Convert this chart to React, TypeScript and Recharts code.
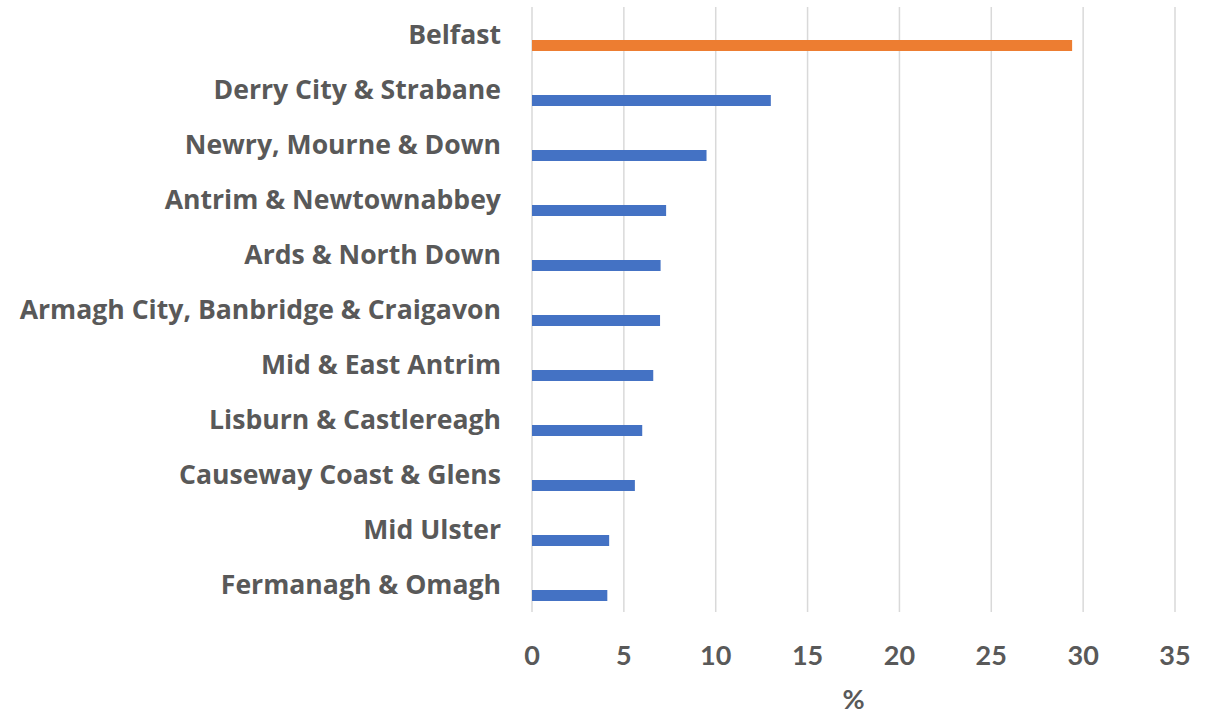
import { BarChart, Bar, XAxis, YAxis, CartesianGrid, Cell } from 'recharts';

const COUNCILS = [
  'Belfast',
  'Derry City & Strabane',
  'Newry, Mourne & Down',
  'Antrim & Newtownabbey',
  'Ards & North Down',
  'Armagh City, Banbridge & Craigavon',
  'Mid & East Antrim',
  'Lisburn & Castlereagh',
  'Causeway Coast & Glens',
  'Mid Ulster',
  'Fermanagh & Omagh',
];

const SHARE_PCT = [29.4, 13.0, 9.5, 7.3, 7.0, 6.97, 6.6, 6.0, 5.6, 4.2, 4.1];

const X_TICKS = [0, 5, 10, 15, 20, 25, 30, 35];

const HIGHLIGHT = 'Belfast';

const LABEL_FONT = '"Open Sans", Lato, sans-serif';
const TICK_FONT = 'Lato, "Open Sans", sans-serif';
const TEXT = '#595959';

// the Excel chart keeps two empty series slots ahead of the real one,
// which pushes each bar below its category label
const rows = COUNCILS.map((name, i) => ({ name, pad1: null, pad2: null, share: SHARE_PCT[i] }));

export default function App() {
  return (
    <div style={{ position: 'absolute', left: 0, top: 0, background: '#fff' }}>
      <BarChart
        width={1214}
        height={715}
        data={rows}
        layout="vertical"
        margin={{ top: 7, right: 39, bottom: 0, left: 0 }}
        barGap={0}
      >
        <CartesianGrid horizontal={false} stroke="#d9d9d9" strokeWidth={1.5} />
        <XAxis
          type="number"
          domain={[0, 35]}
          ticks={X_TICKS}
          interval={0}
          height={103}
          axisLine={false}
          tickLine={false}
          tickSize={0}
          tickMargin={34}
          tick={{ fontSize: 27, fontWeight: 700, fill: TEXT, fontFamily: TICK_FONT }}
          label={{ value: '%', position: 'insideBottom', offset: 6, fontSize: 27, fontWeight: 700, fill: TEXT, fontFamily: TICK_FONT }}
        />
        <YAxis
          type="category"
          dataKey="name"
          width={532}
          interval={0}
          axisLine={false}
          tickLine={false}
          tickSize={0}
          tickMargin={31}
          tick={{ fontSize: 26.6, fontWeight: 700, fill: TEXT, fontFamily: LABEL_FONT }}
        />
        <Bar dataKey="pad1" barSize={11} isAnimationActive={false} />
        <Bar dataKey="pad2" barSize={11} isAnimationActive={false} />
        <Bar dataKey="share" barSize={11} isAnimationActive={false}>
          {rows.map((r) => (
            <Cell key={r.name} fill={r.name === HIGHLIGHT ? '#ed7d31' : '#4472c4'} />
          ))}
        </Bar>
      </BarChart>
    </div>
  );
}
